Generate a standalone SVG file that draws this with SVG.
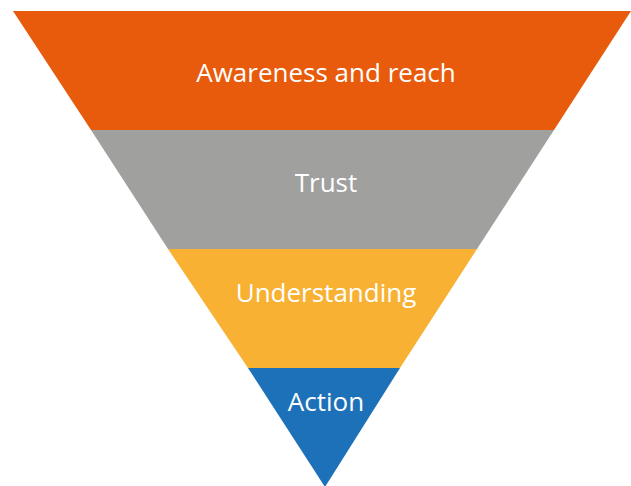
<svg xmlns="http://www.w3.org/2000/svg" width="631" height="486" viewBox="0 0 631 486">
<style>
.lbl{font-family:"Open Sans","Noto Sans",sans-serif;font-size:26px;fill:#ffffff;text-anchor:middle}
</style>
<rect width="631" height="486" fill="#ffffff"/>
<g id="awareness">
<polygon points="13,11 631,11 554,130 91,130" fill="#E95B0C"/>
<text class="lbl" x="326" y="82">Awareness and reach</text>
</g>
<g id="trust">
<polygon points="91,130 554,130 477,249 168,249" fill="#A0A09F"/>
<text class="lbl" x="326" y="192">Trust</text>
</g>
<g id="understanding">
<polygon points="168,249 477,249 400,368 248,368" fill="#F8B133"/>
<text class="lbl" x="326" y="302">Understanding</text>
</g>
<g id="action">
<polygon points="248,368 400,368 325,487" fill="#1D71B8"/>
<text class="lbl" x="326" y="411">Action</text>
</g>
<g id="connectors"></g>
</svg>
